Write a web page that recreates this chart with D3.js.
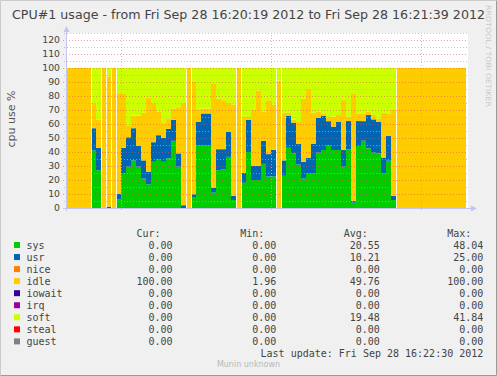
<!DOCTYPE html>
<html>
<head>
<meta charset="utf-8">
<script src="https://cdn.jsdelivr.net/npm/d3@7"></script>
<style>
  body { margin: 0; background: #f0f0f0; }
  svg { display: block; }
</style>
</head>
<body>
<div id="chart"></div>
<script>
// one value per second, 16:20:19 .. 16:21:39
var sysVals = [0,0,0,0,0, 41,27,0,0,0, 6,25,29.5,34,29.5, 21,17,33,35,33,
  35.5,48,29.5,0,0, 7.4,45,45,45,11, 27,27.5,36.5,5.7,0, 18,40,20,20,31.5,
  22.5,22.5,0,23,43, 39,31,21,25,25, 39.5,41.4,45,41.4,41.4, 29.5,41.9,3.8,44.3,48.04,
  42.6,39.5,39,25,33.8, 5.7,0,0,0,0, 0,0,0,0,0, 0,0,0,0,0];
var usrVals = [0,0,0,0,0, 16,16,0,1,0, 4,18,21,23,15, 13,9,14,17,17,
  21,15,9.5,2,0, 2.4,16.5,22.5,22.5,3.5, 15,14.5,18,3,0, 7,23,10,10,16.5,
  16,19,0,11,23, 22,14.7,12,10.7,21, 25,24.3,17,16.7,20.3, 11.9,20.2,1.4,17.8,14,
  23.8,23.8,22.6,11,17.6, 3,0,0,0,0, 0,0,0,0,0, 0,0,0,0,0];
var idleVals = [100,100,100,100,100, 18,20,100,93,100, 72,39,8.1,9,21.5, 34,53,28,17,10,
  7.5,8,33,73,100, 80.2,8.5,3.5,3.5,74.1, 36,35,20.5,65.3,100, 40,2,40,54,21,
  38.5,32.5,91,34,1.96, 2,16.3,45,49.3,22, 4.5,2,3,7.1,4.7, 35.7,3.1,76.8,5.5,5.56,
  2.4,3.1,2.4,32,16.2, 61.3,100,100,100,100, 100,100,100,100,100, 100,100,100,100,100];
var softVals = [0,0,0,0,0, 25,37,0,6,0, 18,18,41.4,34,34, 32,21,25,31,40,
  36,29,28,25,0, 10,30,29,29,11.4, 22,23,25,26,0, 35,35,30,16,31,
  23,26,9,32,32.04, 37,38,22,15,32, 31,32.3,35,34.8,33.6, 22.9,34.8,18,32.4,32.4,
  31.2,33.6,36,32,32.4, 30,0,0,0,0, 0,0,0,0,0, 0,0,0,0,0];

// legend table
var seriesNames = ["sys", "usr", "nice", "idle", "iowait", "irq", "soft", "steal", "guest"];
var seriesColors = ["#00cc00", "#0066b3", "#ff8000", "#ffcc00", "#330099", "#990099", "#ccff00", "#ff0000", "#808080"];
var curVals = [0, 0, 0, 100, 0, 0, 0, 0, 0];
var minVals = [0, 0, 0, 1.96, 0, 0, 0, 0, 0];
var avgVals = [20.55, 10.21, 0, 49.76, 0, 0, 19.48, 0, 0];
var maxVals = [48.04, 25, 0, 100, 0, 0, 41.84, 0, 0];
var yTicks = [0, 10, 20, 30, 40, 50, 60, 70, 80, 90, 100, 110, 120];

var W = 497, H = 376;
var svg = d3.select("#chart").append("svg")
  .attr("width", W)
  .attr("height", H)
  .style("font-family", "'DejaVu Sans', sans-serif");

svg.append("rect").attr("width", W).attr("height", H).attr("fill", "#f0f0f0");
// rrdtool frame shading
svg.append("path").attr("d", "M0.5," + (H - 0.5) + "V0.5H" + (W - 0.5)).attr("fill", "none").attr("stroke", "#cbcbcb");
svg.append("path").attr("d", "M0.5," + (H - 0.5) + "H" + (W - 0.5) + "V0.5").attr("fill", "none").attr("stroke", "#9a9a9a");

var t0 = new Date(2012, 8, 28, 16, 20, 19);
var t1 = new Date(2012, 8, 28, 16, 21, 39);
var x = d3.scaleTime().domain([t0, t1]).range([66, 466]);
var y = d3.scaleLinear().domain([0, 125]).range([208, 33]);

// plot background
svg.append("rect")
  .attr("x", x.range()[0]).attr("y", y(125))
  .attr("width", x.range()[1] - x.range()[0] + 2)
  .attr("height", y(0) - y(125))
  .attr("fill", "#ffffff");

// stacked data
var rows = sysVals.map(function (d, i) {
  return { t: d3.timeSecond.offset(t0, i), sys: d, usr: usrVals[i], nice: 0, idle: idleVals[i],
           iowait: 0, irq: 0, soft: softVals[i], steal: 0, guest: 0 };
});
var stack = d3.stack().keys(seriesNames)(rows);
var color = d3.scaleOrdinal().domain(seriesNames).range(seriesColors);

svg.append("g").selectAll("g")
  .data(stack)
  .join("g")
  .attr("fill", function (d) { return color(d.key); })
  .selectAll("rect")
  .data(function (d) { return d.filter(function (p) { return p[1] - p[0] > 0; }); })
  .join("rect")
  .attr("x", function (d) { return x(d.data.t); })
  .attr("width", function (d) { return x(d3.timeSecond.offset(d.data.t, 1)) - x(d.data.t); })
  .attr("y", function (d) { return y(d[1]); })
  .attr("height", function (d) { return y(d[0]) - y(d[1]); });

// light seams where the cpu goes idle / busy
var seams = rows.filter(function (d, i) {
  if (i == 0) return false;
  var a = sysVals[i - 1] + usrVals[i - 1] == 0, b = sysVals[i] + usrVals[i] == 0;
  return a != b;
});
svg.append("g").selectAll("line")
  .data(seams)
  .join("line")
  .attr("x1", function (d) { return x(d.t) + 0.5; })
  .attr("x2", function (d) { return x(d.t) + 0.5; })
  .attr("y1", y(0)).attr("y2", y(100))
  .attr("stroke", "#ffffff").attr("stroke-opacity", 0.85).attr("stroke-width", 1);

// grid on top
var grid = svg.append("g");
d3.range(5, 126, 10).forEach(function (v) {
  grid.append("line")
    .attr("x1", 64).attr("x2", 468)
    .attr("y1", y(v) + 0.5).attr("y2", y(v) + 0.5)
    .attr("stroke", "#b0b0b0").attr("stroke-opacity", 0.7)
    .attr("stroke-dasharray", "1,2");
});
yTicks.forEach(function (v) {
  grid.append("line")
    .attr("x1", 63).attr("x2", 468)
    .attr("y1", y(v) + 0.5).attr("y2", y(v) + 0.5)
    .attr("stroke", "#e05050").attr("stroke-opacity", 0.55)
    .attr("stroke-dasharray", "1,2");
});
x.ticks(d3.timeSecond.every(30)).forEach(function (t) {
  grid.append("line")
    .attr("x1", x(t) + 0.5).attr("x2", x(t) + 0.5)
    .attr("y1", y(0) + 2).attr("y2", y(125))
    .attr("stroke", "#b0b0b0").attr("stroke-opacity", 0.8)
    .attr("stroke-dasharray", "1,2");
});

// axes with arrows
var axisCol = "#c4c4f0";
svg.append("line").attr("x1", 66.5).attr("x2", 66.5).attr("y1", 211).attr("y2", 28)
  .attr("stroke", axisCol);
svg.append("path").attr("d", "M63.5,32L66.5,26L69.5,32Z").attr("fill", axisCol);
svg.append("line").attr("x1", 63).attr("x2", 474).attr("y1", 208.5).attr("y2", 208.5)
  .attr("stroke", axisCol);
svg.append("path").attr("d", "M471,205.5L477,208.5L471,211.5Z").attr("fill", axisCol);

// y labels
svg.append("g").selectAll("text")
  .data(yTicks)
  .join("text")
  .attr("x", 60).attr("y", function (d) { return y(d); })
  .attr("dy", "0.36em")
  .attr("text-anchor", "end")
  .attr("font-size", "9.3px")
  .attr("fill", "#444")
  .text(function (d) { return d; });

svg.append("text")
  .attr("transform", "translate(15,119) rotate(-90)")
  .attr("text-anchor", "middle")
  .attr("font-size", "11px")
  .attr("fill", "#555")
  .text("cpu use %");

// title
svg.append("text")
  .attr("x", 248.5).attr("y", 18.5)
  .attr("text-anchor", "middle")
  .attr("font-size", "12.6px")
  .attr("fill", "#444")
  .attr("textLength", 473).attr("lengthAdjust", "spacingAndGlyphs")
  .text("CPU#1 usage - from Fri Sep 28 16:20:19 2012 to Fri Sep 28 16:21:39 2012");

svg.append("text")
  .attr("transform", "translate(486,5) rotate(90)")
  .attr("font-size", "7px")
  .attr("fill", "#c8c8c8")
  .attr("textLength", 102).attr("lengthAdjust", "spacingAndGlyphs")
  .text("RRDTOOL / TOBI OETIKER");

// legend
var fmt = d3.format(".2f");
var leg = svg.append("g")
  .style("font-family", "'DejaVu Sans Mono', monospace")
  .attr("font-size", "10px")
  .attr("fill", "#444");
var colStart = [136.5, 240.3, 343.8, 447.3];
var colEnd = [172.5, 276.3, 379.8, 483.3];
["Cur:", "Min:", "Avg:", "Max:"].forEach(function (h, j) {
  leg.append("text").attr("x", colStart[j]).attr("y", 236.5).text(h);
});
var rowG = leg.selectAll("g.row")
  .data(seriesNames)
  .join("g")
  .attr("class", "row")
  .attr("transform", function (d, i) { return "translate(0," + (248.5 + i * 12.05) + ")"; });
rowG.append("rect")
  .attr("x", 14).attr("y", -6.5).attr("width", 6).attr("height", 6)
  .attr("fill", function (d) { return color(d); });
rowG.append("text").attr("x", 26.5).text(function (d) { return d; });
[curVals, minVals, avgVals, maxVals].forEach(function (vals, j) {
  rowG.append("text")
    .attr("x", colEnd[j])
    .attr("text-anchor", "end")
    .text(function (d, i) { return fmt(vals[i]); });
});
leg.append("text")
  .attr("x", 483.3).attr("y", 248.5 + 9 * 12.05)
  .attr("text-anchor", "end")
  .text("Last update:  Fri Sep 28 16:22:30 2012");

svg.append("text")
  .attr("x", 248.5).attr("y", 366.5)
  .attr("text-anchor", "middle")
  .attr("font-size", "8px")
  .attr("fill", "#b8b8b8")
  .text("Munin unknown");
</script>
</body>
</html>
